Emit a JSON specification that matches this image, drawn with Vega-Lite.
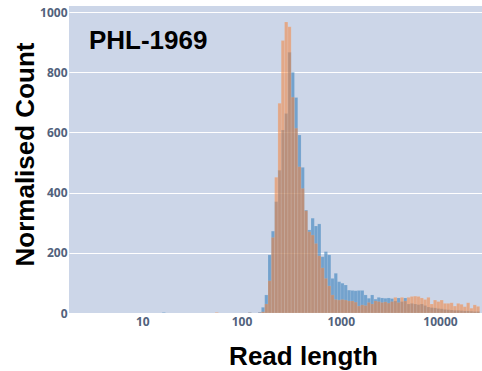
{
  "$schema": "https://vega.github.io/schema/vega-lite/v6.json",
  "width": 413,
  "height": 307,
  "autosize": {"type": "none"},
  "padding": {"left": 69, "top": 6, "right": 0, "bottom": 58},
  "background": "white",
  "view": {"fill": "#ccd6e8", "stroke": null},
  "datasets": {"hist": [
    {"lo": 15.85, "hi": 17.11, "blue": 2, "orange": 0},
    {"lo": 54.12, "hi": 58.43, "blue": 0, "orange": 2},
    {"lo": 116.59, "hi": 125.89, "blue": 2, "orange": 1},
    {"lo": 146.78, "hi": 158.49, "blue": 3, "orange": 1},
    {"lo": 158.49, "hi": 171.13, "blue": 19, "orange": 4},
    {"lo": 171.13, "hi": 184.78, "blue": 60, "orange": 30},
    {"lo": 184.78, "hi": 199.53, "blue": 193, "orange": 107},
    {"lo": 199.53, "hi": 215.44, "blue": 272, "orange": 251},
    {"lo": 215.44, "hi": 232.63, "blue": 370, "orange": 451},
    {"lo": 232.63, "hi": 251.19, "blue": 474, "orange": 697},
    {"lo": 251.19, "hi": 271.23, "blue": 608, "orange": 905},
    {"lo": 271.23, "hi": 292.86, "blue": 663, "orange": 967},
    {"lo": 292.86, "hi": 316.23, "blue": 866, "orange": 951},
    {"lo": 316.23, "hi": 341.45, "blue": 800, "orange": 717},
    {"lo": 341.45, "hi": 368.69, "blue": 716, "orange": 614},
    {"lo": 368.69, "hi": 398.11, "blue": 591, "orange": 486},
    {"lo": 398.11, "hi": 429.87, "blue": 484, "orange": 414},
    {"lo": 429.87, "hi": 464.16, "blue": 342, "orange": 340},
    {"lo": 464.16, "hi": 501.19, "blue": 276, "orange": 270},
    {"lo": 501.19, "hi": 541.17, "blue": 315, "orange": 259},
    {"lo": 541.17, "hi": 584.34, "blue": 289, "orange": 231},
    {"lo": 584.34, "hi": 630.96, "blue": 296, "orange": 190},
    {"lo": 630.96, "hi": 681.29, "blue": 187, "orange": 150},
    {"lo": 681.29, "hi": 735.64, "blue": 204, "orange": 115},
    {"lo": 735.64, "hi": 794.33, "blue": 193, "orange": 90},
    {"lo": 794.33, "hi": 857.7, "blue": 115, "orange": 60},
    {"lo": 857.7, "hi": 926.12, "blue": 132, "orange": 45},
    {"lo": 926.12, "hi": 1000, "blue": 104, "orange": 43},
    {"lo": 1000, "hi": 1079.78, "blue": 99, "orange": 45},
    {"lo": 1079.78, "hi": 1165.91, "blue": 93, "orange": 43},
    {"lo": 1165.91, "hi": 1258.93, "blue": 76, "orange": 40},
    {"lo": 1258.93, "hi": 1359.36, "blue": 75, "orange": 40},
    {"lo": 1359.36, "hi": 1467.8, "blue": 74, "orange": 36},
    {"lo": 1467.8, "hi": 1584.89, "blue": 75, "orange": 23},
    {"lo": 1584.89, "hi": 1711.33, "blue": 75, "orange": 27},
    {"lo": 1711.33, "hi": 1847.85, "blue": 60, "orange": 25},
    {"lo": 1847.85, "hi": 1995.26, "blue": 49, "orange": 35},
    {"lo": 1995.26, "hi": 2154.43, "blue": 60, "orange": 30},
    {"lo": 2154.43, "hi": 2326.31, "blue": 46, "orange": 40},
    {"lo": 2326.31, "hi": 2511.89, "blue": 52, "orange": 38},
    {"lo": 2511.89, "hi": 2712.27, "blue": 50, "orange": 35},
    {"lo": 2712.27, "hi": 2928.65, "blue": 49, "orange": 37},
    {"lo": 2928.65, "hi": 3162.28, "blue": 50, "orange": 33},
    {"lo": 3162.28, "hi": 3414.55, "blue": 48, "orange": 38},
    {"lo": 3414.55, "hi": 3686.95, "blue": 40, "orange": 52},
    {"lo": 3686.95, "hi": 3981.07, "blue": 50, "orange": 35},
    {"lo": 3981.07, "hi": 4298.66, "blue": 38, "orange": 52},
    {"lo": 4298.66, "hi": 4641.59, "blue": 50, "orange": 40},
    {"lo": 4641.59, "hi": 5011.87, "blue": 30, "orange": 52},
    {"lo": 5011.87, "hi": 5411.7, "blue": 32, "orange": 55},
    {"lo": 5411.7, "hi": 5843.41, "blue": 30, "orange": 56},
    {"lo": 5843.41, "hi": 6309.57, "blue": 28, "orange": 55},
    {"lo": 6309.57, "hi": 6812.92, "blue": 30, "orange": 50},
    {"lo": 6812.92, "hi": 7356.42, "blue": 25, "orange": 45},
    {"lo": 7356.42, "hi": 7943.28, "blue": 20, "orange": 52},
    {"lo": 7943.28, "hi": 8576.96, "blue": 18, "orange": 30},
    {"lo": 8576.96, "hi": 9261.19, "blue": 17, "orange": 43},
    {"lo": 9261.19, "hi": 10000, "blue": 15, "orange": 38},
    {"lo": 10000, "hi": 10797.75, "blue": 14, "orange": 43},
    {"lo": 10797.75, "hi": 11659.14, "blue": 12, "orange": 32},
    {"lo": 11659.14, "hi": 12589.25, "blue": 11, "orange": 32},
    {"lo": 12589.25, "hi": 13593.56, "blue": 10, "orange": 34},
    {"lo": 13593.56, "hi": 14677.99, "blue": 9, "orange": 23},
    {"lo": 14677.99, "hi": 15848.93, "blue": 9, "orange": 32},
    {"lo": 15848.93, "hi": 17113.28, "blue": 8, "orange": 29},
    {"lo": 17113.28, "hi": 18478.5, "blue": 7, "orange": 21},
    {"lo": 18478.5, "hi": 19952.62, "blue": 7, "orange": 34},
    {"lo": 19952.62, "hi": 21544.35, "blue": 6, "orange": 16},
    {"lo": 21544.35, "hi": 23263.44, "blue": 5, "orange": 27},
    {"lo": 23263.44, "hi": 25118.86, "blue": 5, "orange": 22}
  ],
  "label": [{"label": "PHL-1969", "len": 2.9, "count": 877}]},
  "layer": [
    {
      "data": {"name": "hist"},
      "mark": {"type": "bar", "color": "#2b78b8", "opacity": 0.55, "clip": true, "orient": "vertical", "stroke": "#ffffff", "strokeWidth": 0.4, "strokeOpacity": 0.3},
      "encoding": {
        "x": {
          "field": "lo", "type": "quantitative",
          "scale": {"type": "log", "domain": [2.05, 23590], "nice": false, "zero": false},
          "axis": {
            "title": "Read length",
            "values": [10, 100, 1000, 10000],
            "format": "d",
            "grid": false, "ticks": false, "domain": false,
            "labelFont": "Open Sans", "labelFontSize": 12, "labelFontWeight": "bold", "labelColor": "#52627c",
            "labelPadding": 3,
            "titleFont": "Liberation Sans", "titleFontSize": 26, "titleFontWeight": "bold", "titleColor": "#000000",
            "titleX": 234, "titleY": 51, "titleBaseline": "alphabetic", "titleAlign": "center"
          }
        },
        "x2": {"field": "hi"},
        "y": {
          "field": "blue", "type": "quantitative",
          "scale": {"domain": [0, 1020], "nice": false},
          "axis": {
            "title": "Normalised Count",
            "values": [0, 200, 400, 600, 800, 1000],
            "format": "d",
            "grid": true, "gridColor": "#ffffff", "gridWidth": 1.2, "gridOpacity": 1,
            "ticks": false, "domain": false,
            "labelFont": "Open Sans", "labelFontSize": 12, "labelFontWeight": "bold", "labelColor": "#52627c",
            "labelPadding": 2,
            "titleFont": "Liberation Sans", "titleFontSize": 26, "titleFontWeight": "bold", "titleColor": "#000000",
            "titleAngle": -90, "titleX": -36, "titleY": 148, "titleBaseline": "alphabetic", "titleAlign": "center"
          }
        },
        "y2": {"datum": 0}
      }
    },
    {
      "data": {"name": "hist"},
      "mark": {"type": "bar", "color": "#f5833a", "opacity": 0.55, "clip": true, "orient": "vertical", "stroke": "#ffffff", "strokeWidth": 0.4, "strokeOpacity": 0.3},
      "encoding": {
        "x": {"field": "lo", "type": "quantitative"},
        "x2": {"field": "hi"},
        "y": {"field": "orange", "type": "quantitative"},
        "y2": {"datum": 0}
      }
    },
    {
      "data": {"name": "label"},
      "mark": {"type": "text", "font": "Liberation Sans", "fontSize": 26, "fontWeight": "bold", "color": "#000000", "align": "left", "baseline": "alphabetic"},
      "encoding": {
        "x": {"field": "len", "type": "quantitative"},
        "y": {"field": "count", "type": "quantitative"},
        "text": {"field": "label"}
      }
    }
  ]
}
